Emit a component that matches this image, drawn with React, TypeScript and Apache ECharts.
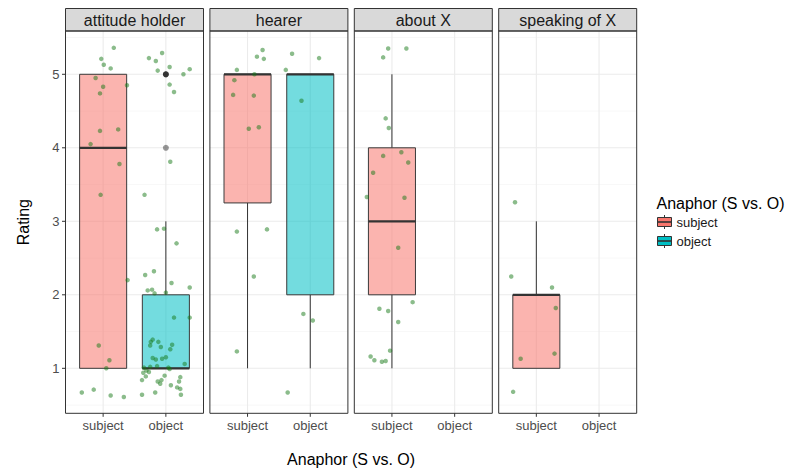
import React, { useEffect, useRef } from "react";
import * as echarts from "echarts";

// ---------- data ----------
const facets = ["attitude holder", "hearer", "about X", "speaking of X"];
const categories = ["subject", "object"];
const categoryPositions = [1, 2];
const yTickValues = [1, 2, 3, 4, 5];
const yMinorValues = [0.5, 1.5, 2.5, 3.5, 4.5, 5.5];

// box stats: [x, whiskerLow, q1, median, q3, whiskerHigh, group]
const boxesAttitude = [
  [1, 1, 1, 4, 5, 5, 0],
  [2, 1, 1, 1, 2, 3, 1],
];
const boxesHearer = [
  [1, 1, 3.25, 5, 5, 5, 0],
  [2, 1, 2, 5, 5, 5, 1],
];
const boxesAbout = [[1, 1, 2, 3, 4, 5, 0]];
const boxesSpeaking = [[1, 1, 1, 2, 2, 3, 0]];

const outliersAttitude = [
  [2, 5],
  [2, 5],
  [2, 5],
  [2, 4],
];
const outliersHearer: number[][] = [];
const outliersAbout: number[][] = [];
const outliersSpeaking: number[][] = [];

const pointsAttitude = [
  [1.17, 5.36], [0.97, 5.21], [1.01, 5.13], [1.12, 5.08], [0.88, 4.95], [1.0, 4.83], [0.95, 4.74],
  [1.38, 4.85], [0.95, 4.23], [1.24, 4.25], [0.8, 4.05], [1.26, 3.78], [0.96, 3.36], [1.39, 2.2],
  [0.93, 1.31], [1.1, 1.11], [1.05, 1.0], [0.66, 0.67], [0.85, 0.71], [1.12, 0.63], [1.33, 0.61],
  [1.73, 5.22], [1.84, 5.18], [1.94, 5.29], [1.87, 5.05], [2.06, 5.1], [2.28, 5.0], [2.38, 5.07],
  [2.06, 4.86], [2.13, 4.76], [2.07, 3.81], [1.66, 3.36], [1.86, 2.89], [1.97, 2.9], [2.17, 2.7],
  [1.67, 2.27], [1.81, 2.32], [2.09, 2.16], [2.38, 2.1], [1.71, 2.06], [1.78, 2.07], [1.82, 2.02],
  [2.0, 2.03], [2.13, 1.69], [2.38, 1.69], [1.79, 1.39], [1.76, 1.36], [1.75, 1.31], [1.88, 1.36],
  [1.92, 1.29], [2.1, 1.32], [2.07, 1.26], [1.79, 1.14], [1.84, 1.12], [1.94, 1.13], [2.0, 1.15],
  [2.3, 1.06], [1.65, 1.01], [1.75, 1.02], [1.86, 1.03], [2.04, 1.01], [2.06, 0.99], [1.69, 0.97],
  [1.73, 0.95], [1.64, 0.94], [1.68, 0.89], [1.62, 0.84], [1.98, 0.9], [1.93, 0.84], [1.87, 0.82],
  [1.91, 0.79], [2.23, 0.88], [2.21, 0.82], [2.08, 0.77], [2.18, 0.74], [2.23, 0.72], [2.24, 0.64],
  [1.83, 0.67], [1.62, 0.64],
];
const pointsHearer = [
  [1.24, 5.33], [1.15, 5.24], [1.26, 5.21], [0.83, 5.06], [1.11, 5.0], [0.79, 4.92], [0.77, 4.72],
  [1.1, 4.71], [1.02, 4.26], [1.18, 4.28], [0.83, 2.86], [1.31, 2.89], [1.1, 2.25], [0.83, 1.23],
  [1.71, 5.28], [2.14, 5.22], [1.61, 5.06], [1.86, 4.64], [1.89, 1.74], [2.04, 1.65], [1.64, 0.67],
];
const pointsAbout = [
  [0.94, 5.35], [1.23, 5.35], [0.86, 5.23], [0.9, 4.4], [0.95, 4.27], [0.86, 3.89], [1.15, 3.94],
  [1.26, 3.8], [0.7, 3.66], [0.6, 3.33], [1.2, 3.32], [1.1, 2.64], [1.33, 1.9], [0.8, 1.81],
  [0.94, 1.78], [1.1, 1.63], [0.97, 1.24], [0.66, 1.16], [0.72, 1.11], [0.84, 1.09], [0.9, 1.1],
];
const pointsSpeaking = [
  [0.66, 3.26], [0.6, 2.25], [1.25, 2.1], [1.31, 1.82], [1.29, 1.2], [0.75, 1.13], [0.63, 0.68],
];

const facetBoxes = [boxesAttitude, boxesHearer, boxesAbout, boxesSpeaking];
const facetOutliers = [outliersAttitude, outliersHearer, outliersAbout, outliersSpeaking];
const facetPoints = [pointsAttitude, pointsHearer, pointsAbout, pointsSpeaking];

// ---------- layout / style ----------
const Y_MIN = 0.388;
const Y_MAX = 5.589;
const X_MIN = 0.4;
const X_MAX = 2.6;
const PANEL_LEFT = [65.5, 209.9, 354.3, 498.7];
const PANEL_W = 138;
const PANEL_TOP = 31;
const PANEL_H = 382.3;
const FONT = "Liberation Sans, Arial, Helvetica, sans-serif";
const FILL_ALPHA = ["rgba(248,118,109,0.55)", "rgba(0,191,196,0.55)"];
const FILL_SOLID = ["#F8766D", "#00BFC4"];
const POINT_COLOR = "rgba(20,120,20,0.62)";

function gridRender(params: any, api: any) {
  const a = api.value(0);
  const b = api.value(1);
  const kind = api.value(2);
  if (kind === 0 || kind === 1) {
    const p1 = api.coord([X_MIN, b]);
    const p2 = api.coord([X_MAX, b]);
    return {
      type: "line",
      shape: { x1: p1[0], y1: p1[1], x2: p2[0], y2: p2[1] },
      style: { stroke: kind === 0 ? "#EBEBEB" : "#F2F2F2", lineWidth: kind === 0 ? 1.1 : 0.6 },
      silent: true,
    };
  }
  if (kind === 2) {
    const p1 = api.coord([a, Y_MIN]);
    const p2 = api.coord([a, Y_MAX]);
    return {
      type: "line",
      shape: { x1: p1[0], y1: p1[1], x2: p2[0], y2: p2[1] },
      style: { stroke: "#EBEBEB", lineWidth: 1.1 },
      silent: true,
    };
  }
  if (kind === 3) {
    const p = api.coord([X_MIN, b]);
    return {
      type: "line",
      shape: { x1: p[0] - 3.5, y1: p[1], x2: p[0], y2: p[1] },
      style: { stroke: "#333333", lineWidth: 1 },
      silent: true,
    };
  }
  const p = api.coord([a, Y_MIN]);
  return {
    type: "line",
    shape: { x1: p[0], y1: p[1], x2: p[0], y2: p[1] + 3.5 },
    style: { stroke: "#333333", lineWidth: 1 },
    silent: true,
  };
}

function boxRender(params: any, api: any) {
  const x = api.value(0);
  const lo = api.value(1);
  const q1 = api.value(2);
  const med = api.value(3);
  const q3 = api.value(4);
  const hi = api.value(5);
  const g = api.value(6);
  const half = 0.375;
  const tl = api.coord([x - half, q3]);
  const br = api.coord([x + half, q1]);
  const pLo = api.coord([x, lo]);
  const pQ1 = api.coord([x, q1]);
  const pQ3 = api.coord([x, q3]);
  const pHi = api.coord([x, hi]);
  const mL = api.coord([x - half, med]);
  const mR = api.coord([x + half, med]);
  return {
    type: "group",
    children: [
      { type: "line", shape: { x1: pQ3[0], y1: pQ3[1], x2: pHi[0], y2: pHi[1] }, style: { stroke: "#333", lineWidth: 1 } },
      { type: "line", shape: { x1: pLo[0], y1: pLo[1], x2: pQ1[0], y2: pQ1[1] }, style: { stroke: "#333", lineWidth: 1 } },
      {
        type: "rect",
        shape: { x: tl[0], y: tl[1], width: br[0] - tl[0], height: br[1] - tl[1] },
        style: { fill: FILL_ALPHA[g], stroke: "#3a3a3a", lineWidth: 1 },
      },
      { type: "line", shape: { x1: mL[0], y1: mL[1], x2: mR[0], y2: mR[1] }, style: { stroke: "#333", lineWidth: 2.2 } },
    ],
  };
}

export default function App() {
  const ref = useRef<HTMLDivElement>(null);
  useEffect(() => {
    document.body.style.margin = "0";
    if (!ref.current) return;
    const chart = echarts.init(ref.current, null, { renderer: "svg" });

    const grids = facets.map((_, i) => ({
      left: PANEL_LEFT[i],
      top: PANEL_TOP,
      width: PANEL_W,
      height: PANEL_H,
      show: true,
      backgroundColor: "#ffffff",
      borderWidth: 0,
    }));

    const xAxes = facets.map((_, i) => ({
      type: "value",
      gridIndex: i,
      min: X_MIN,
      max: X_MAX,
      interval: 0.2,
      splitLine: { show: false },
      axisLine: { show: false },
      axisTick: { show: false },
      axisLabel: {
        margin: 6,
        color: "#4D4D4D",
        fontSize: 13,
        fontFamily: FONT,
        formatter: (v: number) => {
          const k = categoryPositions.findIndex((c) => Math.abs(c - v) < 1e-6);
          return k >= 0 ? categories[k] : "";
        },
      },
    }));

    const yAxes = facets.map((_, i) => ({
      type: "value",
      gridIndex: i,
      min: Y_MIN,
      max: Y_MAX,
      splitLine: { show: false },
      axisLine: { show: false },
      axisTick: { show: false },
      axisLabel: {
        show: i === 0,
        margin: 6,
        color: "#4D4D4D",
        fontSize: 13,
        fontFamily: FONT,
        formatter: (v: number) => (yTickValues.some((t) => Math.abs(t - v) < 1e-6) ? String(Math.round(v)) : ""),
      },
    }));

    const series: any[] = [];
    facets.forEach((_, i) => {
      const gridData: number[][] = [];
      yTickValues.forEach((v) => gridData.push([1, v, 0]));
      yMinorValues.forEach((v) => gridData.push([1, v, 1]));
      categoryPositions.forEach((c) => gridData.push([c, 3, 2]));
      if (i === 0) yTickValues.forEach((v) => gridData.push([1, v, 3]));
      categoryPositions.forEach((c) => gridData.push([c, 3, 4]));
      series.push({
        type: "custom",
        xAxisIndex: i,
        yAxisIndex: i,
        renderItem: gridRender,
        data: gridData,
        z: 1,
        silent: true,
      });
      series.push({
        type: "custom",
        xAxisIndex: i,
        yAxisIndex: i,
        renderItem: boxRender,
        data: facetBoxes[i],
        z: 2,
        silent: true,
      });
      series.push({
        type: "scatter",
        xAxisIndex: i,
        yAxisIndex: i,
        data: facetOutliers[i],
        symbolSize: 6,
        itemStyle: { color: "rgba(0,0,0,0.5)" },
        z: 3,
        silent: true,
      });
      series.push({
        type: "scatter",
        xAxisIndex: i,
        yAxisIndex: i,
        data: facetPoints[i],
        symbolSize: 4.5,
        itemStyle: { color: POINT_COLOR },
        z: 4,
        silent: true,
      });
    });

    const graphics: any[] = [];
    facets.forEach((name, i) => {
      graphics.push({
        type: "rect",
        shape: { x: PANEL_LEFT[i], y: 8.5, width: PANEL_W, height: PANEL_TOP - 8.5 },
        style: { fill: "#D9D9D9", stroke: "#333333", lineWidth: 1 },
        z: 100,
      });
      graphics.push({
        type: "text",
        x: PANEL_LEFT[i] + PANEL_W / 2,
        y: (8.5 + PANEL_TOP) / 2 + 0.5,
        style: {
          text: name,
          fill: "#1A1A1A",
          font: `16px ${FONT}`,
          align: "center",
          verticalAlign: "middle",
        },
        z: 101,
      });
      graphics.push({
        type: "rect",
        shape: { x: PANEL_LEFT[i], y: PANEL_TOP, width: PANEL_W, height: PANEL_H },
        style: { fill: "none", stroke: "#333333", lineWidth: 1 },
        z: 100,
      });
    });
    // axis titles
    graphics.push({
      type: "text",
      x: (PANEL_LEFT[0] + PANEL_LEFT[3] + PANEL_W) / 2,
      y: 459,
      style: { text: "Anaphor (S vs. O)", fill: "#000", font: `16px ${FONT}`, align: "center", verticalAlign: "middle" },
      z: 101,
    });
    graphics.push({
      type: "text",
      x: 23,
      y: PANEL_TOP + PANEL_H / 2,
      rotation: Math.PI / 2,
      style: { text: "Rating", fill: "#000", font: `16px ${FONT}`, align: "center", verticalAlign: "middle" },
      z: 101,
    });
    // legend
    graphics.push({
      type: "text",
      x: 656.5,
      y: 203,
      style: { text: "Anaphor (S vs. O)", fill: "#000", font: `16px ${FONT}`, align: "left", verticalAlign: "middle" },
      z: 101,
    });
    categories.forEach((c, k) => {
      const cy = 222 + k * 19;
      const x0 = 657.5;
      const w = 14;
      graphics.push({
        type: "line",
        shape: { x1: x0 + w / 2, y1: cy - 7, x2: x0 + w / 2, y2: cy + 7 },
        style: { stroke: "#333", lineWidth: 1 },
        z: 101,
      });
      graphics.push({
        type: "rect",
        shape: { x: x0, y: cy - 4.5, width: w, height: 9 },
        style: { fill: FILL_SOLID[k], stroke: "#333", lineWidth: 1 },
        z: 102,
      });
      graphics.push({
        type: "line",
        shape: { x1: x0, y1: cy, x2: x0 + w, y2: cy },
        style: { stroke: "#333", lineWidth: 1.6 },
        z: 103,
      });
      graphics.push({
        type: "text",
        x: 676.5,
        y: cy,
        style: { text: c, fill: "#1A1A1A", font: `13px ${FONT}`, align: "left", verticalAlign: "middle" },
        z: 101,
      });
    });

    chart.setOption({
      animation: false,
      backgroundColor: "#ffffff",
      textStyle: { fontFamily: FONT },
      grid: grids,
      xAxis: xAxes,
      yAxis: yAxes,
      series,
      graphic: graphics,
    });
    return () => chart.dispose();
  }, []);
  return <div ref={ref} style={{ width: 789, height: 471 }} />;
}
